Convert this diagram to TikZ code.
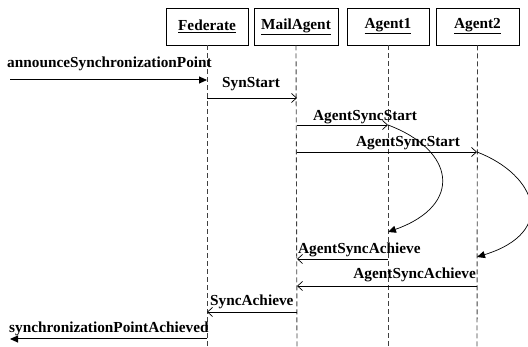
\documentclass[tikz,border=0pt]{standalone}
\usepackage{fontspec}
\setmainfont{Liberation Serif}
\usetikzlibrary{arrows.meta}
\tikzset{
  obj/.style={draw=black, line width=0.8pt, minimum width=82pt, minimum height=37pt, inner sep=0pt, font=\fontsize{15.3}{17}\selectfont\bfseries},
  life/.style={draw=black!75, line width=0.9pt, dash pattern=on 5pt off 3pt},
  msg/.style={line width=0.7pt, -{Straight Barb[length=5pt,width=9pt,line width=0.7pt]}},
  ext/.style={line width=1pt, -{Triangle[length=8pt,width=7pt]}},
  self/.style={line width=0.7pt, -{Triangle[length=8pt,width=7pt]}},
  lbl/.style={anchor=base west, inner sep=0pt, font=\fontsize{15.3}{17}\selectfont\bfseries}
}
\begin{document}
\begin{tikzpicture}[x=1pt,y=-1pt]
\useasboundingbox (0,0) rectangle (528,347);
\node[obj] (f) at (207,26.5) {\underline{Federate}};
\node[obj, minimum width=84pt] (m) at (296,26.5) {\underline{MailAgent}};
\node[obj] (a1) at (388,26.5) {\underline{Agent1}};
\node[obj, minimum width=83pt] (a2) at (477.5,26.5) {\underline{Agent2}};
\coordinate (fe) at (207,347);
\coordinate (me) at (297,347);
\coordinate (a1e) at (388,347);
\coordinate (a2e) at (477,347);
\draw[life] (f.south) -- (fe);
\draw[life] (m.south) -- (me);
\draw[life] (a1.south) -- (a1e);
\draw[life] (a2.south) -- (a2e);
% y levels
\coordinate (y1) at (0,80);
\coordinate (y2) at (0,98);
\coordinate (y3) at (0,125);
\coordinate (y4) at (0,152);
\coordinate (y5) at (0,232);
\coordinate (y6) at (0,257);
\coordinate (y7) at (0,259);
\coordinate (y8) at (0,286);
\coordinate (y9) at (0,312);
\coordinate (y10) at (0,339);
\coordinate (in) at (10,80);
\coordinate (out) at (10,339);
% messages
\draw[ext] (in) -- (f.center |- y1);
\node[lbl] (t1) at (7,68) {announceSynchronizationPoint};
\draw[msg] (f.center |- y2) -- (me |- y2);
\node[lbl] (t2) at (222,88) {SynStart};
\draw[msg] (me |- y3) -- (a1e |- y3);
\node[lbl] (t3) at (313,121) {AgentSyncStart};
\draw[msg] (me |- y4) -- (a2e |- y4);
\node[lbl] (t4) at (356,147) {AgentSyncStart};
\draw[self] (a1e |- y3) .. controls (455,150) and (464,205) .. (a1e |- y5);
\draw[self] (a2e |- y4) .. controls (537,175) and (558,232) .. (a2e |- y6);
\draw[msg] (a1e |- y7) -- (me |- y7);
\node[lbl] (t5) at (298,254) {AgentSyncAchieve};
\draw[msg] (a2e |- y8) -- (me |- y8);
\node[lbl, anchor=base east] (t6) at (476,279) {AgentSyncAchieve};
\draw[msg] (me |- y9) -- (fe |- y9);
\node[lbl] (t7) at (210,306) {SyncAchieve};
\draw[ext] (fe |- y10) -- (out);
\node[lbl] (t8) at (9,333) {synchronizationPointAchieved};
\end{tikzpicture}
\end{document}
